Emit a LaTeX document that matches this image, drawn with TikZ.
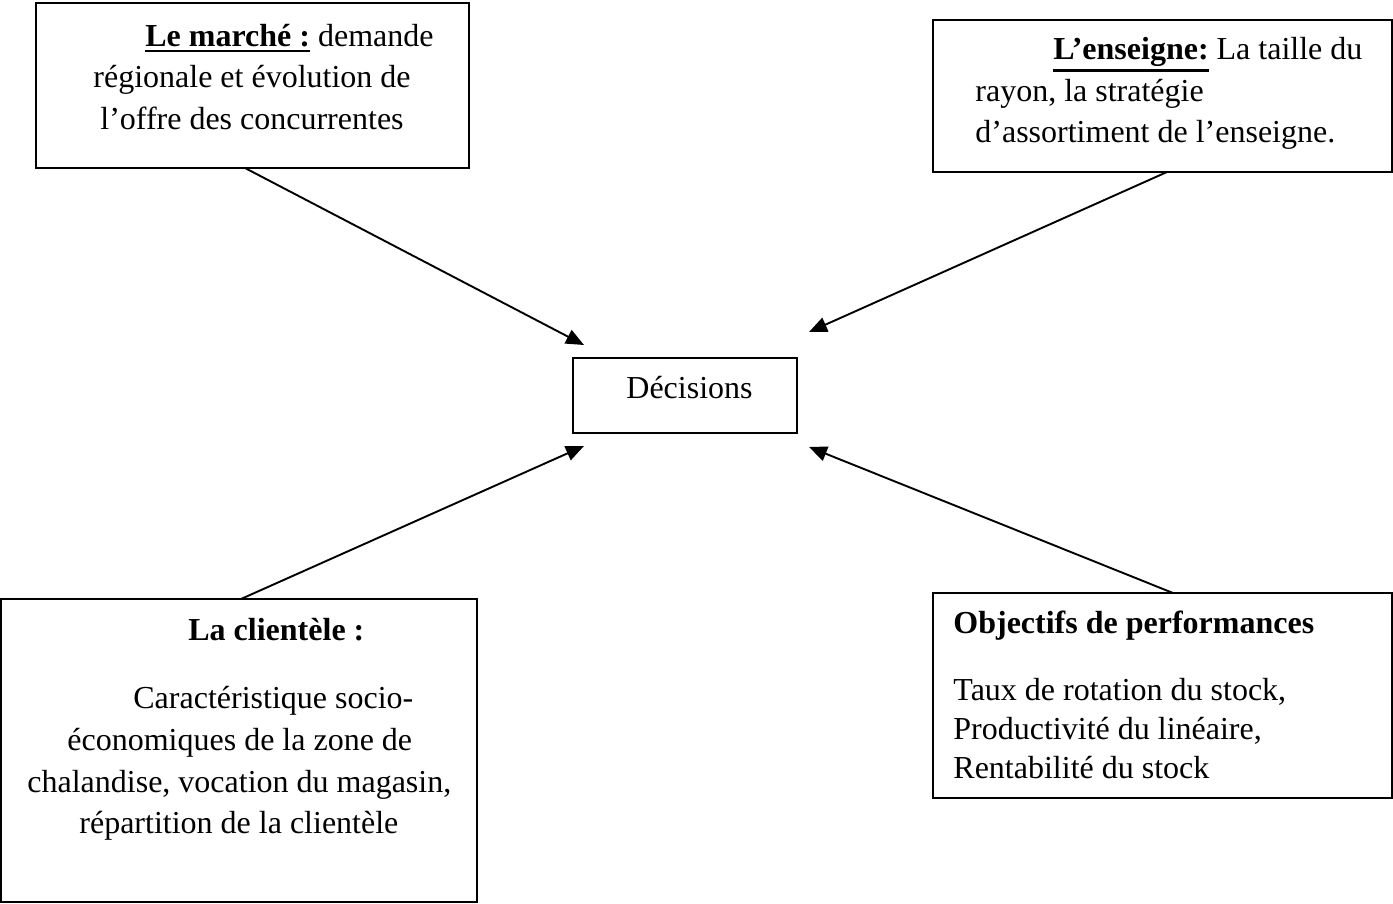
\documentclass[tikz,border=0pt]{standalone}
\usepackage{fontspec}
\setmainfont{Liberation Serif}
\usetikzlibrary{arrows.meta}
\newcommand\thickul[1]{\leavevmode\vtop{\hbox{#1}\kern1.2pt\hrule height 1.3pt}}
\begin{document}
\begin{tikzpicture}[x=0.5pt,y=-0.5pt,
  box/.style={draw=black,line width=0.9pt,rectangle,inner sep=0pt},
  txt/.style={anchor=base west,inner sep=0pt,font=\fontsize{16pt}{20pt}\selectfont},
  arr/.style={line width=0.95pt,-{Triangle[length=9pt,width=7.5pt]}}]
\useasboundingbox (0,0) rectangle (1393,904);
% boxes
\node[box,minimum width=216.5pt,minimum height=82.5pt] (mk) at (252.5,85.5) {};
\node[box,minimum width=229.5pt,minimum height=76pt] (en) at (1162.5,96) {};
\node[box,minimum width=112pt,minimum height=37.5pt] (dec) at (685,395.5) {};
\node[box,minimum width=238pt,minimum height=151.5pt] (cl) at (239,750.5) {};
\node[box,minimum width=229.5pt,minimum height=102.5pt] (ob) at (1162.5,695.5) {};
% texts
\node[txt] (mk1) at (145,47) {\thickul{\textbf{Le marché :}} demande};
\node[txt] (mk2) at (93,88) {régionale et évolution de};
\node[txt] (mk3) at (100,130) {l’offre des concurrentes};
\node[txt] (en1) at (1053,60) {\thickul{\textbf{L’enseigne:}} La taille du};
\node[txt] (en2) at (975,102) {rayon, la stratégie};
\node[txt] (en3) at (975,143) {d’assortiment de l’enseigne.};
\node[txt] (dect) at (626,398) {Décisions};
\node[txt] (cl1) at (188,640) {\textbf{La clientèle :}};
\node[txt] (cl2) at (133,708) {Caractéristique socio-};
\node[txt] (cl3) at (67,750) {économiques de la zone de};
\node[txt] (cl4) at (27,792) {chalandise, vocation du magasin,};
\node[txt] (cl5) at (79,833) {répartition de la clientèle};
\node[txt] (ob1) at (953,633) {\textbf{Objectifs de performances}};
\node[txt] (ob2) at (953,700) {Taux de rotation du stock,};
\node[txt] (ob3) at (953,739) {Productivité du linéaire,};
\node[txt] (ob4) at (953,778) {Rentabilité du stock};
% connector ends
\coordinate (mkS) at (245,168);
\coordinate (enS) at (1167,172);
\coordinate (clS) at (241,599);
\coordinate (obS) at (1173,593);
\coordinate (tA) at (584,345);
\coordinate (tB) at (809,332);
\coordinate (tC) at (584,446);
\coordinate (tD) at (809,447);
\draw[arr] (mkS) -- (tA);
\draw[arr] (enS) -- (tB);
\draw[arr] (clS) -- (tC);
\draw[arr] (obS) -- (tD);
\end{tikzpicture}
\end{document}
